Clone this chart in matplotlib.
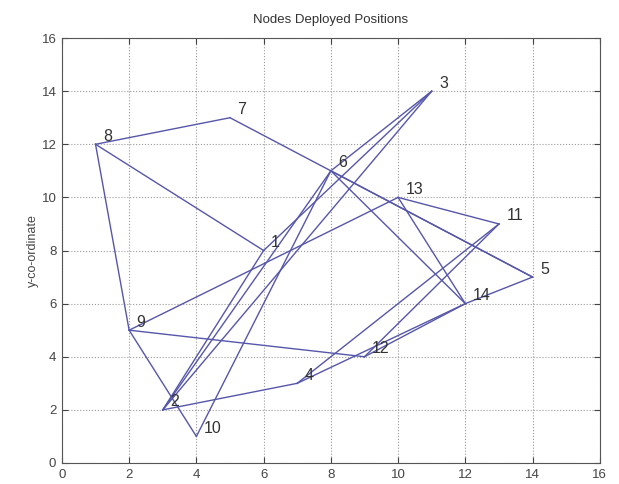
import matplotlib
matplotlib.use("Agg")
import matplotlib.pyplot as plt

# node coordinates, numbered 1..14
node_x = [6, 3, 11, 7, 14, 8, 5, 1, 2, 4, 13, 9, 10, 12]
node_y = [8, 2, 14, 3, 7, 11, 13, 12, 5, 1, 9, 4, 10, 6]

# links between nodes (1-based ids)
links = [
    (8, 7), (8, 1), (8, 9), (7, 5), (6, 5),
    (9, 13), (9, 12), (9, 10), (10, 6),
    (2, 1), (2, 4), (2, 6), (2, 3), (3, 6), (1, 3),
    (13, 11), (13, 14), (6, 14),
    (11, 4), (11, 12), (4, 14), (12, 14), (14, 5),
]

plt.rcParams['font.family'] = ['Liberation Sans', 'DejaVu Sans']

fig = plt.figure(figsize=(6.19, 4.84), dpi=100)
ax = fig.add_axes([0.100, 0.0434, 0.869, 0.878])

for a, b in links:
    ax.plot([node_x[a - 1], node_x[b - 1]], [node_y[a - 1], node_y[b - 1]],
            color='#5656aa', lw=1.0)

for i, (x, y) in enumerate(zip(node_x, node_y)):
    ax.text(x + 0.22, y + 0.3, str(i + 1), fontsize=11.5, color='#333333',
            ha='left', va='center')

ax.set_xlim(0, 16)
ax.set_ylim(0, 16)
ax.set_xticks(range(0, 17, 2))
ax.set_yticks(range(0, 17, 2))
ax.grid(True, linestyle=':', color='#9a9a9a', lw=0.8)
ax.tick_params(direction='in', length=4, labelsize=9.5, colors='#444444',
               top=True, right=True, pad=4)
for s in ax.spines.values():
    s.set_color('#555555')
    s.set_linewidth(0.8)

ax.set_title('Nodes Deployed Positions', fontsize=9.5, color='#333333', pad=11)
ax.set_ylabel('y-co-ordinate', fontsize=9, color='#444444', labelpad=2)

fig.savefig('out.png', dpi=100)
